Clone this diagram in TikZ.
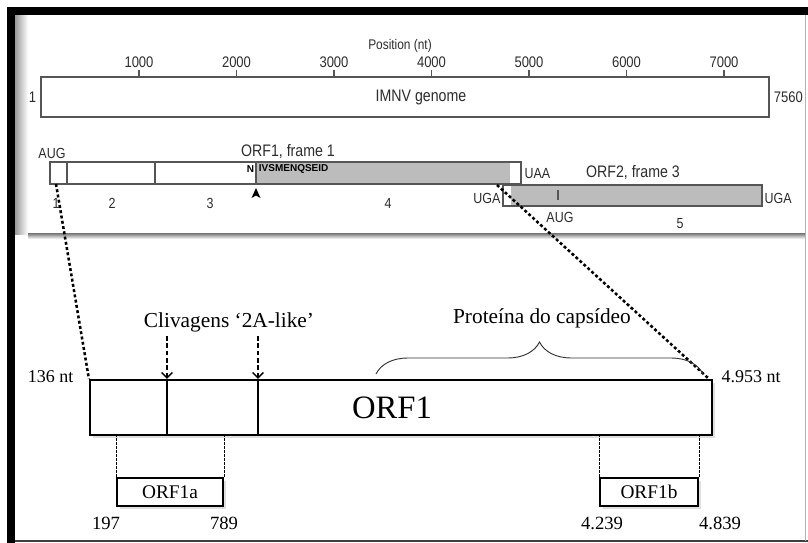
\documentclass[tikz,border=0pt]{standalone}
\usepackage{fontspec}
\setmainfont{Liberation Serif}
\newfontfamily\figsans[FakeStretch=0.85]{Liberation Sans}
\newfontfamily\pepfont{Liberation Sans}
\usetikzlibrary{arrows.meta,decorations.pathreplacing,positioning,shadows}

\definecolor{barline}{RGB}{85,85,85}
\definecolor{orfgrey}{RGB}{188,188,188}
\definecolor{figtext}{RGB}{45,45,45}

\tikzset{
  sanslab/.style={inner sep=1pt, text=figtext, font=\figsans\fontsize{11}{12}\selectfont},
  ticklab/.style={inner sep=1pt, text=figtext, font=\figsans\fontsize{11.5}{13}\selectfont},
  orflab/.style={inner sep=1pt, text=figtext, font=\figsans\fontsize{12.5}{14}\selectfont},
  peplab/.style={inner sep=0.5pt, text=black, font=\pepfont\bfseries\fontsize{7.5}{8}\selectfont},
  bartrack/.style={draw=barline, line width=1pt},
  serlab/.style={inner sep=1pt, font=\fontsize{16}{18}\selectfont},
  numlab/.style={inner sep=1pt, font=\fontsize{14}{16}\selectfont},
  ntlab/.style={inner sep=1pt, font=\fontsize{13.5}{15}\selectfont},
  mainbar/.style={draw, line width=1.6pt, minimum width=466.5pt, minimum height=41.25pt,
    inner sep=0pt, fill=white, drop shadow={opacity=0.25, shadow xshift=2pt, shadow yshift=-2pt}},
  subbox/.style={draw, line width=1.4pt, minimum height=21pt, inner sep=0pt,
    font=\fontsize{14.5}{16}\selectfont, fill=white,
    drop shadow={opacity=0.25, shadow xshift=2pt, shadow yshift=-2pt}},
  zoomline/.style={line width=1.9pt, dash pattern=on 2.2pt off 1.8pt},
  cleave/.style={line width=1.1pt, dash pattern=on 3.5pt off 2pt, -{Straight Barb[length=4pt,width=8pt]}},
  guide/.style={line width=0.5pt, dash pattern=on 2pt off 1pt},
}

\begin{document}
\begin{tikzpicture}[x=0.75pt,y=0.75pt,yscale=-1,xscale=1]
\useasboundingbox (0,0) rectangle (808,543);

% outer frame
\fill[white] (0,0) rectangle (808,543);
\fill[black] (7,7) rectangle (808,15);
\fill[black] (7,7) rectangle (15,543);
\draw[line width=1.3pt, black!75] (15,541) -- (808,541);
\draw[line width=0.6pt, black!30] (805,15) -- (805,541);

% inset panel with shadow
\shade[left color=black!40, right color=white] (15,15) rectangle (28,234);
\shade[top color=black!55, bottom color=white] (28,233) rectangle (805,239);

% genome track
\node[draw=barline, line width=1pt, minimum width=546pt, minimum height=30pt, inner sep=0pt] (genome) at (405,97) {};
\node[inner sep=0pt, font=\figsans\fontsize{12.5}{14}\selectfont, text=figtext] (gname) at (421,97) {IMNV genome};
\foreach \k in {1,...,7}{
  \draw[bartrack] ({139+(\k-1)*97.5},77) -- ++(0,-7) node[ticklab, above] (tick\k) {\k000};
}
\node[sanslab, font=\figsans\fontsize{10.5}{12}\selectfont] (pos) at (400,46) {Position (nt)};
\node[ticklab, left=2pt of genome] (gstart) {1};
\node[ticklab, right=2pt of genome] (gend) {7560};

% ORF1, frame 1
\fill[orfgrey] (256,162) rectangle (510,184);
\draw[bartrack] (50,162) rectangle (521,184);
\draw[bartrack] (67,162) -- (67,184);
\draw[bartrack] (155,162) -- (155,184);
\draw[bartrack] (256,162) -- (256,184);
\fill[black] (256,188) -- (260.5,198) -- (256,195.5) -- (251.5,198) -- cycle;
\node[sanslab] (aug1) at (52,153) {AUG};
\node[orflab] (orf1name) at (288,152) {ORF1, frame 1};
\node[peplab, anchor=east] (nterm) at (255,169) {N};
\node[peplab, anchor=west] (pep) at (258,169) {IVSMENQSEID};
\node[sanslab] (seg1) at (56,203) {1};
\node[sanslab] (seg2) at (112,203) {2};
\node[sanslab] (seg3) at (210,203) {3};
\node[sanslab] (seg4) at (388,203) {4};
\node[sanslab, anchor=west] (uaa) at (523,174) {UAA};

% ORF2, frame 3
\fill[orfgrey] (511,185) rectangle (762,206);
\draw[bartrack] (503,185) rectangle (762,206);
\draw[bartrack] (558,190) -- (558,200);
\node[orflab] (orf2name) at (633,173) {ORF2, frame 3};
\node[sanslab, anchor=east] (uga1) at (502,198) {UGA};
\node[sanslab, anchor=west] (uga2) at (763,198) {UGA};
\node[sanslab] (aug2) at (560,217) {AUG};
\node[sanslab] (seg5) at (680,224) {5};

% expanded ORF1
\node[mainbar] (orf) at (401,407.5) {};
\node[inner sep=0pt, font=\fontsize{24.5}{28}\selectfont] (orfname) at (392,408) {ORF1};
\draw[line width=0.9pt] (167,380) -- (167,435);
\draw[line width=0.9pt] (258,380) -- (258,435);
\node[ntlab, anchor=east] (ntstart) at (75,377) {136 nt};
\node[ntlab, anchor=west] (ntend) at (720,377) {4.953 nt};

% zoom lines
\coordinate (z1) at (56,184);
\coordinate (z2) at (497,185);
\draw[zoomline] (z1) -- (orf.north west);
\draw[zoomline] (z2) -- ([xshift=-3pt]orf.north east);

% cleavage sites
\node[serlab] (cliv) at (229,322) {Clivagens `2A-like'};
\coordinate (c1) at (167,336);
\coordinate (c2) at (258,336);
\draw[cleave] (c1) -- (c1 |- orf.north);
\draw[cleave] (c2) -- (c2 |- orf.north);

% capsid protein
\draw[line width=0.7pt, black!80, decorate, decoration={brace, amplitude=24pt, aspect=0.5}]
  (376,374) -- (703,374);
\node[serlab] (capsid) at (542,318) {Proteína do capsídeo};

% ORF1a / ORF1b
\node[subbox, minimum width=79.5pt] (orfa) at (170,492) {ORF1a};
\node[subbox, minimum width=73.5pt] (orfb) at (649,492) {ORF1b};
\draw[guide] (orfa.north west) -- (orfa.north west |- orf.south);
\draw[guide] (orfa.north east) -- (orfa.north east |- orf.south);
\draw[guide] (orfb.north west) -- (orfb.north west |- orf.south);
\draw[guide] (orfb.north east) -- (orfb.north east |- orf.south);
\node[numlab] (pa1) at (106,523) {197};
\node[numlab] (pa2) at (224,523) {789};
\node[numlab] (pb1) at (602,523) {4.239};
\node[numlab] (pb2) at (720,523) {4.839};

\end{tikzpicture}
\end{document}
